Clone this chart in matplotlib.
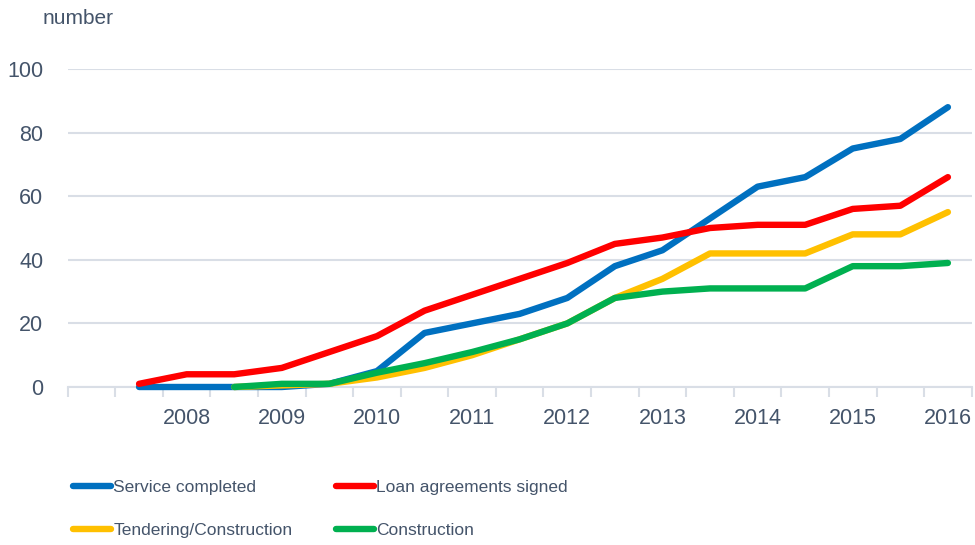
import numpy as np
import matplotlib
matplotlib.use('Agg')
import matplotlib.pyplot as plt

# half-year categories, only the year-end ones carry a label
tick_labels = ['', '', '2008', '', '2009', '', '2010', '', '2011', '', '2012',
               '', '2013', '', '2014', '', '2015', '', '2016']

nan = np.nan
service = [nan, 0, 0, 0, 0, 1, 5, 17, 20, 23, 28, 38, 43, 53, 63, 66, 75, 78, 88]
loans = [nan, 1, 4, 4, 6, 11, 16, 24, 29, 34, 39, 45, 47, 50, 51, 51, 56, 57, 66]
tendering = [nan, nan, nan, 0, 0.5, 1, 3, 6, 10, 15, 20, 28, 34, 42, 42, 42, 48, 48, 55]
construction = [nan, nan, nan, 0, 1, 1, 4.5, 7.5, 11, 15, 20, 28, 30, 31, 31, 31, 38, 38, 39]

series = [
    ('Service completed', service, '#0070C0'),
    ('Loan agreements signed', loans, '#FF0000'),
    ('Tendering/Construction', tendering, '#FFC000'),
    ('Construction', construction, '#00B050'),
]

txt = '#44546A'
grid = '#D9DEE6'

plt.rcParams['font.family'] = ['Liberation Sans', 'DejaVu Sans']

fig = plt.figure(figsize=(9.75, 5.45), dpi=100)
ax = fig.add_axes([67.7 / 975, 1 - 387 / 545, (971.7 - 67.7) / 975, (387 - 69) / 545])

x = np.arange(len(tick_labels))
lines = {}
for name, vals, col in series:
    ln, = ax.plot(x, vals, color=col, lw=4.6, solid_capstyle='round',
                  solid_joinstyle='round', clip_on=False, label=name, zorder=3)
    lines[name] = ln

ax.set_xlim(-0.5, len(tick_labels) - 0.5)
ax.set_ylim(0, 100)
ax.set_yticks(range(0, 101, 20))
ax.yaxis.grid(True, color=grid, lw=1.5)
ax.set_axisbelow(True)

ax.set_xticks(x)
ax.set_xticklabels(tick_labels)
ax.set_xticks(np.arange(-0.5, len(tick_labels), 1), minor=True)
ax.tick_params(axis='x', which='major', length=0, pad=15, labelsize=15.5, labelcolor=txt)
ax.tick_params(axis='x', which='minor', length=7, width=1.5, color=grid)
ax.tick_params(axis='y', length=0, pad=17.5, labelsize=15.5, labelcolor=txt)

for s in ['top', 'right', 'left']:
    ax.spines[s].set_visible(False)
ax.spines['bottom'].set_color(grid)
ax.spines['bottom'].set_linewidth(1.5)

fig.text(43 / 975, 1 - 19 / 545, 'number', fontsize=15, color=txt, va='center', ha='left')

order = ['Service completed', 'Tendering/Construction', 'Loan agreements signed', 'Construction']
leg = fig.legend([lines[n] for n in order], order, loc='upper left',
                 bbox_to_anchor=(73 / 975, 1 - 480 / 545), ncol=2, frameon=False,
                 borderpad=0, borderaxespad=0, handlelength=2.2, handletextpad=0.12,
                 columnspacing=2.5, labelspacing=1.6, fontsize=12.5)
for t in leg.get_texts():
    t.set_color(txt)

fig.savefig('out.png', dpi=100)
